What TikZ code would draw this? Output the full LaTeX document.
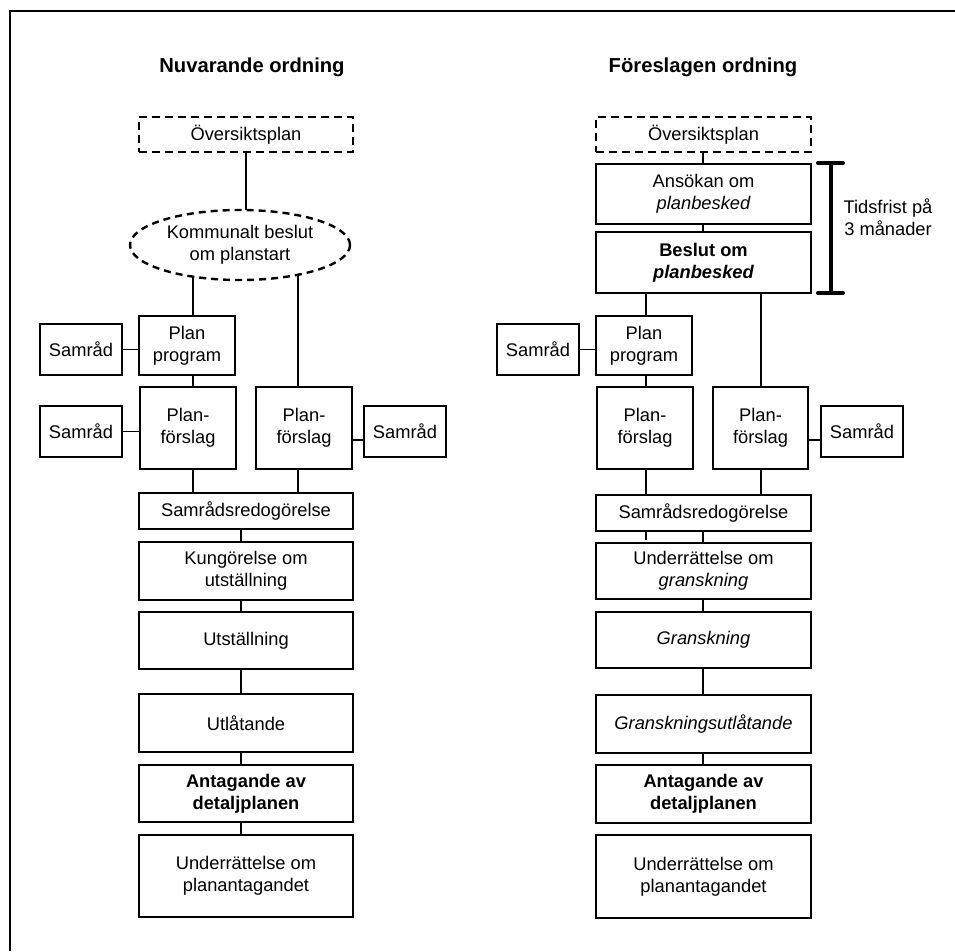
\documentclass[tikz,border=0pt]{standalone}
\usepackage{fontspec}
\setmainfont{Liberation Sans}
\usetikzlibrary{shapes.geometric,backgrounds}
\begin{document}
\begin{tikzpicture}[x=1pt,y=-1pt,
  every node/.style={font=\fontsize{18.3}{21.7}\selectfont, align=center, inner sep=0pt},
  box/.style={draw, line width=1.7pt, fill=white},
  dbox/.style={draw, line width=2.4pt, dash pattern=on 8pt off 5pt, fill=white},
  link/.style={line width=1.6pt},
  ttl/.style={font=\fontsize{20.2}{24}\selectfont\bfseries},
  frame/.style={line width=2.7pt}
]
\useasboundingbox (0,0) rectangle (955,951);
% frame (cut off at right and bottom)
\coordinate (fa) at (10,951);
\coordinate (fb) at (10,11);
\coordinate (fc) at (955,11);
\draw[frame] (fa) -- (fb) -- (fc);

% ---------------- left column ----------------
\node[ttl] (tL) at (252,67) {Nuvarande ordning};
\node[dbox, minimum width=214, minimum height=35] (ovL) at (246,134.5) {Översiktsplan};
\node[draw, ellipse, line width=2.4pt, dash pattern=on 7pt off 5pt, fill=white,
      minimum width=220, minimum height=70] (ell) at (240,245) {Kommunalt beslut\\om planstart};
\node[box, minimum width=82, minimum height=51] (samL1) at (81,349.5) {Samråd};
\node[box, minimum width=96, minimum height=59] (ppL) at (187,345.5) {Plan\\program};
\node[box, minimum width=82, minimum height=51] (samL2) at (81,431.5) {Samråd};
\node[box, minimum width=96, minimum height=82] (pfL1) at (188,428) {Plan-\\förslag};
\node[box, minimum width=96, minimum height=82] (pfL2) at (304,428) {Plan-\\förslag};
\node[box, minimum width=82, minimum height=51] (samL3) at (405,431.5) {Samråd};
\node[box, minimum width=214, minimum height=36] (srL) at (246,511) {Samrådsredogörelse};
\node[box, minimum width=214, minimum height=58] (kuL) at (246,571) {Kungörelse om\\utställning};
\node[box, minimum width=214, minimum height=57] (utL) at (246,640.5) {Utställning};
\node[box, minimum width=214, minimum height=58] (ulL) at (246,723) {Utlåtande};
\node[box, minimum width=214, minimum height=57] (anL) at (246,793.5) {\bfseries Antagande av\\\bfseries detaljplanen};
\node[box, minimum width=214, minimum height=82] (unL) at (246,876) {Underrättelse om\\planantagandet};

% ---------------- right column ----------------
\node[ttl] (tR) at (703,67) {Föreslagen ordning};
\node[dbox, minimum width=215, minimum height=35] (ovR) at (703.5,134.5) {Översiktsplan};
\node[box, minimum width=215, minimum height=60] (asR) at (703.5,194) {Ansökan om\\\itshape planbesked};
\node[box, minimum width=215, minimum height=61] (bsR) at (703.5,262.5) {\bfseries Beslut om\\\bfseries\itshape planbesked};
\node[box, minimum width=82, minimum height=51] (samR1) at (538,349.5) {Samråd};
\node[box, minimum width=96, minimum height=59] (ppR) at (644,345.5) {Plan\\program};
\node[box, minimum width=96, minimum height=82] (pfR1) at (645,428) {Plan-\\förslag};
\node[box, minimum width=95, minimum height=82] (pfR2) at (760.5,428) {Plan-\\förslag};
\node[box, minimum width=82, minimum height=51] (samR3) at (862,431.5) {Samråd};
\node[box, minimum width=215, minimum height=36] (srR) at (703.5,513) {Samrådsredogörelse};
\node[box, minimum width=215, minimum height=56] (ugR) at (703.5,571) {Underrättelse om\\\itshape granskning};
\node[box, minimum width=215, minimum height=56] (grR) at (703.5,640) {\itshape Granskning};
\node[box, minimum width=215, minimum height=58] (guR) at (703.5,724) {\itshape Granskningsutlåtande};
\node[box, minimum width=215, minimum height=58] (anR) at (703.5,794) {\bfseries Antagande av\\\bfseries detaljplanen};
\node[box, minimum width=215, minimum height=83] (unR) at (703.5,876.5) {Underrättelse om\\planantagandet};

% time bracket
\coordinate (bt) at (831,163);
\coordinate (bb) at (831,293);
\draw[line width=4pt, line cap=round] ([xshift=-13pt]bt) -- ([xshift=12pt]bt)
      (bt) -- (bb) ([xshift=-13pt]bb) -- ([xshift=12pt]bb);
\node (tid) at (888,217.5) {Tidsfrist på\\3 månader};

% ---------------- connectors ----------------
\coordinate (xa) at (193,0);
\coordinate (xb) at (298,0);
\coordinate (xc) at (241,0);
\coordinate (xr) at (703,0);
\coordinate (xd) at (646,0);
\coordinate (xe) at (761,0);
\coordinate (y440) at (0,440);
\begin{scope}[on background layer]
  % left
  \draw[link] (ovL.south) -- (ovL.south |- ell.center);
  \draw[link] (xa |- ell.center) -- (xa |- srL.north);
  \draw[link] (xb |- ell.center) -- (xb |- srL.north);
  \draw[link] (xc |- srL.center) -- (xc |- unL.center);
  \draw[link] (samL1.east) -- (samL1.east -| ppL.west);
  \draw[link] (samL2.east) -- (samL2.east -| pfL1.west);
  \draw[link] (pfL2.east |- y440) -- (samL3.west |- y440);
  % right
  \draw[link] (xr |- ovR.center) -- (xr |- bsR.center);
  \draw[link] (xd |- bsR.center) -- (xd |- srR.north);
  \draw[link] (xe |- bsR.center) -- (xe |- srR.north);
  \draw[link] (xd |- srR.center) -- ([yshift=-8pt]xd |- srR.south);
  \draw[link] (xr |- srR.center) -- (xr |- anR.center);
  \draw[link] (samR1.east) -- (samR1.east -| ppR.west);
  \draw[link] (pfR2.east |- y440) -- (samR3.west |- y440);
\end{scope}
\end{tikzpicture}
\end{document}
